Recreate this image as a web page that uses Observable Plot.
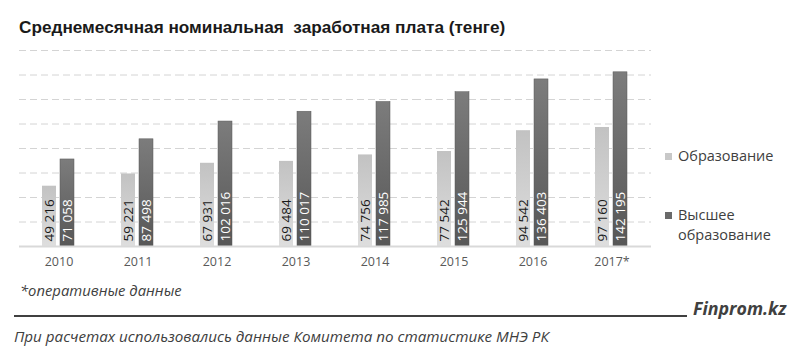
<!DOCTYPE html>
<html>
<head>
<meta charset="utf-8">
<script src="https://cdn.jsdelivr.net/npm/d3@7"></script>
<script src="https://cdn.jsdelivr.net/npm/@observablehq/plot@0.6"></script>
<style>
  html, body { margin: 0; padding: 0; background: #fff; }
  #wrap { position: relative; width: 800px; height: 352px; overflow: hidden; }
  #wrap svg.plot { position: absolute; left: 0; top: 0; }
  .abs { position: absolute; white-space: pre; }
  #title { left: 19px; top: 17px; font: bold 17.2px "Liberation Sans", Arial, sans-serif; color: #1a1a1a; line-height: 20px; }
  .lg-sw { position: absolute; width: 7px; height: 7px; }
  .lg-tx { position: absolute; font: 14.5px "Open Sans", sans-serif; color: #404040; line-height: 20px; white-space: pre; }
  #note { left: 20px; top: 280px; font: italic 14.8px "Open Sans", sans-serif; color: #404040; line-height: 20px; }
  #rule { position: absolute; left: 14px; top: 315px; width: 673px; height: 2px; background: #404040; }
  #brand { left: 693px; top: 296px; font: italic bold 17.8px "Open Sans", sans-serif; color: #404040; line-height: 24px; }
  #src { left: 14px; top: 326px; font: italic 15.2px "Open Sans", sans-serif; color: #404040; line-height: 20px; }
</style>
</head>
<body>
<div id="wrap"></div>
<script>
// ---- data ----
const years = ["2010", "2011", "2012", "2013", "2014", "2015", "2016", "2017*"];
const seriesNames = ["Образование", "Высшее образование"];
const education = [49216, 59221, 67931, 69484, 74756, 77542, 94542, 97160];
const higherEducation = [71058, 87498, 102016, 110017, 117985, 125944, 136403, 142195];
const gridTicks = [20000, 40000, 60000, 80000, 100000, 120000, 140000, 160000];
const titleText = "Среднемесячная номинальная  заработная плата (тенге)";
const noteText = "*оперативные данные";
const brandText = "Finprom.kz";
const sourceText = "При расчетах использовались данные Комитета по статистике МНЭ РК";

const table = [];
years.forEach((y, i) => {
  table.push({year: y, series: seriesNames[0], value: education[i]});
  table.push({year: y, series: seriesNames[1], value: higherEducation[i]});
});

const locale = d3.formatLocale({decimal: ",", thousands: " ", grouping: [3], currency: ["", ""]});
const fmt = locale.format(",d");

const fillFor = {[seriesNames[0]]: "url(#gLight)", [seriesNames[1]]: "url(#gDark)"};
const textFor = {[seriesNames[0]]: "#1a1a1a", [seriesNames[1]]: "#ffffff"};

const chart = Plot.plot({
  width: 800,
  height: 352,
  marginLeft: 18,
  marginRight: 149,
  marginTop: 50,
  marginBottom: 106,
  style: {fontFamily: "'Open Sans', sans-serif", fontSize: "12.5px", color: "#595959", background: "transparent"},
  fx: {domain: years, padding: 0, label: null, tickSize: 0, tickPadding: 11, axis: "bottom"},
  x: {domain: seriesNames, paddingInner: 0.21, paddingOuter: 1.19, axis: null},
  y: {domain: [0, 160000], axis: null},
  marks: [
    Plot.ruleY(gridTicks, {stroke: "#d4d4d4", strokeWidth: 1, strokeDasharray: "7,4"}),
    Plot.barY(table, {fx: "year", x: "series", y: "value", fill: d => fillFor[d.series], stroke: d => d.series === seriesNames[1] ? "#5a5a5a" : "none", strokeWidth: 0.5}),
    Plot.ruleY([0], {stroke: "#d9d9d9", strokeWidth: 2}),
    Plot.text(table, {fx: "year", x: "series", y: 0, text: d => fmt(d.value), rotate: -90, textAnchor: "start", lineAnchor: "middle", dy: -5, fill: d => textFor[d.series], fontSize: 13.5, fontFamily: "'Open Sans', sans-serif"})
  ]
});
chart.classList.add("plot");

// gradients
const ns = "http://www.w3.org/2000/svg";
const defs = document.createElementNS(ns, "defs");
function grad(id, top, bottom) {
  const g = document.createElementNS(ns, "linearGradient");
  g.setAttribute("id", id);
  g.setAttribute("x1", "0"); g.setAttribute("y1", "0");
  g.setAttribute("x2", "0"); g.setAttribute("y2", "1");
  [[0, top], [1, bottom]].forEach(([o, c]) => {
    const s = document.createElementNS(ns, "stop");
    s.setAttribute("offset", o);
    s.setAttribute("stop-color", c);
    g.appendChild(s);
  });
  defs.appendChild(g);
}
grad("gLight", "#c2c2c2", "#dedede");
grad("gDark", "#7c7c7c", "#575757");
chart.insertBefore(defs, chart.firstChild);

const wrap = document.getElementById("wrap");
wrap.appendChild(chart);

function addDiv(id, cls, text) {
  const d = document.createElement("div");
  if (id) d.id = id;
  d.className = cls;
  d.textContent = text;
  wrap.appendChild(d);
  return d;
}
addDiv("title", "abs", titleText);

// legend
const sw1 = addDiv(null, "lg-sw", ""); sw1.style.left = "665px"; sw1.style.top = "153px"; sw1.style.background = "#c8c8c8";
const t1 = addDiv(null, "lg-tx", seriesNames[0]); t1.style.left = "678px"; t1.style.top = "146px";
const sw2 = addDiv(null, "lg-sw", ""); sw2.style.left = "665px"; sw2.style.top = "212px"; sw2.style.background = "#6a6a6a";
const t2 = addDiv(null, "lg-tx", "Высшее\nобразование"); t2.style.left = "678px"; t2.style.top = "205px";

addDiv("note", "abs", noteText);
const r = document.createElement("div"); r.id = "rule"; wrap.appendChild(r);
addDiv("brand", "abs", brandText);
addDiv("src", "abs", sourceText);
</script>
</body>
</html>
